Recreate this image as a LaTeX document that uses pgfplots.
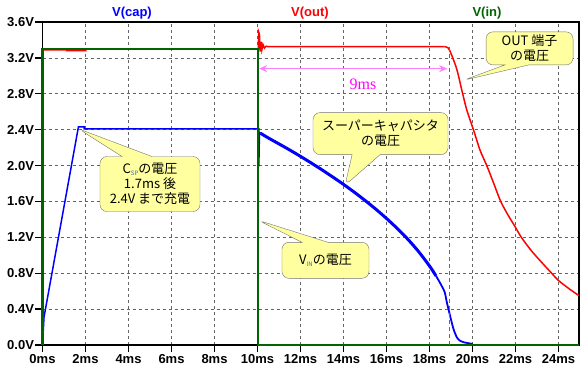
\documentclass[border=0pt]{standalone}
\usepackage{fontspec}
\setmainfont{Liberation Sans}
\newfontfamily\jp{Noto Sans CJK JP}
\newfontfamily\serifnum{Liberation Serif}
\usepackage{pgfplots}
\pgfplotsset{compat=1.18}
\usetikzlibrary{shapes.callouts,arrows.meta}
\definecolor{vblue}{RGB}{0,0,255}
\definecolor{vred}{RGB}{255,0,0}
\definecolor{vgreen}{RGB}{0,100,0}
\definecolor{mag}{RGB}{255,0,255}
\definecolor{lmag}{RGB}{255,128,255}
\definecolor{cfill}{RGB}{255,255,160}
\definecolor{gridc}{RGB}{100,100,100}
\definecolor{subc}{RGB}{40,110,170}
\begin{document}
\begin{tikzpicture}[x=1pt,y=1pt]
\path[use as bounding box] (0,0) rectangle (588,372);
\begin{axis}[
  at={(42.5pt,27pt)}, anchor=south west,
  scale only axis, width=536.5pt, height=323pt,
  xmin=0, xmax=24.95, ymin=0, ymax=3.6,
  clip=false,
  axis line style={black, line width=1.6pt},
  xtick={0,2,4,6,8,10,12,14,16,18,20,22,24},
  xticklabels={0ms,2ms,4ms,6ms,8ms,10ms,12ms,14ms,16ms,18ms,20ms,22ms,24ms},
  ytick={0,0.4,0.8,1.2,1.6,2.0,2.4,2.8,3.2,3.6},
  yticklabels={0.0V,0.4V,0.8V,1.2V,1.6V,2.0V,2.4V,2.8V,3.2V,3.6V},
  tick align=outside, major tick length=7pt,
  tick style={black, line width=1.4pt},
  xtick pos=bottom, ytick pos=left,
  grid=major,
  grid style={gridc, dash pattern=on 3pt off 3pt, line width=0.7pt},
  ticklabel style={font=\bfseries\fontsize{13}{13}\selectfont, text=black},
  yticklabel style={xshift=2pt},
  xticklabel style={yshift=1pt},
]
% V(out)
\addplot[vred, line width=1.5pt] coordinates {
 (0,3.29) (1.13,3.29) (1.13,3.28) (2.02,3.28) (2.02,3.30) (9.99,3.30)
 (10.04,3.30) (10.05,3.49) (10.09,3.46) (10.12,3.27) (10.16,3.38) (10.2,3.29)
 (10.25,3.35) (10.32,3.31) (10.4,3.33) (10.5,3.325) (18.7,3.325)};
\addplot[vred, line width=1.5pt, smooth, tension=0.5] coordinates {
 (18.7,3.325) (18.87,3.31) (19.03,3.23)
 (19.27,3.07) (19.50,2.84) (19.73,2.62) (20.04,2.40) (20.35,2.17) (20.66,2.0)
 (20.97,1.81) (21.31,1.60) (21.67,1.44) (22.0,1.31) (22.24,1.21) (22.67,1.07)
 (23.14,0.94) (23.64,0.81) (23.99,0.72) (24.53,0.62) (24.95,0.55)};
% V(cap)
\addplot[vblue, line width=1.5pt] coordinates {
 (0,0) (0.07,0.31) (1.67,2.43) (1.94,2.43) (1.94,2.41) (10.06,2.41)
 (10.06,1.99) (10.09,2.37) (10.14,2.36)};
\addplot[vblue, line width=3pt, smooth, tension=0.5] coordinates {
 (10.14,2.36) (10.5,2.308) (11,2.241) (11.5,2.173) (12,2.102) (12.5,2.028)
 (13,1.952) (13.5,1.872) (14,1.790) (14.5,1.703) (15,1.611) (15.5,1.514)
 (16,1.410) (16.5,1.298) (17,1.176) (17.5,1.038) (18,0.880) (18.3,0.770)};
\addplot[vblue, line width=1.8pt, smooth, tension=0.4] coordinates {
 (18.3,0.770) (18.5,0.687) (18.7,0.591) (18.8,0.48) (18.95,0.33) (19.11,0.18)
 (19.27,0.085) (19.4,0.05) (19.6,0.03) (19.93,0.015) (20.0,0.01)};
% V(in)
\addplot[vgreen, line width=2pt] coordinates {
 (0,0) (0,3.30) (10.0,3.30) (10.0,0) (24.95,0)};

% annotations
\draw[lmag, line width=1.5pt, {Stealth[length=8pt,width=7pt]}-{Stealth[length=8pt,width=7pt]}]
  (axis cs:10.07,3.08) -- (axis cs:18.82,3.08);
\draw[mag, line width=0.8pt, dash pattern=on 4pt off 3pt] (axis cs:18.9,3.32) -- (axis cs:18.9,0);
\node[text=mag, font=\serifnum\fontsize{16}{16}\selectfont] at (axis cs:14.9,2.91) {9ms};

\node[text=vblue, font=\bfseries\fontsize{13}{13}\selectfont] at (axis cs:4.16,3.70) {V(cap)};
\node[text=vred, font=\bfseries\fontsize{13}{13}\selectfont] at (axis cs:12.44,3.70) {V(out)};
\node[text=vgreen, font=\bfseries\fontsize{13}{13}\selectfont] at (axis cs:20.67,3.70) {V(in)};

\tikzset{jpc/.style={rectangle callout, draw=black!55, fill=cfill, rounded corners=7pt,
  align=center, inner sep=0pt, font=\jp\fontsize{13}{15}\selectfont}}
\node[jpc, minimum width=100pt, minimum height=55pt, callout pointer width=30pt,
  callout absolute pointer={(axis cs:1.67,2.41)}] at (axis cs:5.0,1.794)
  {C{\fontsize{6}{6}\selectfont\raisebox{-1.5pt}{\textcolor{subc}{SP}}}の電圧\\1.7ms 後\\2.4V まで充電};
\node[jpc, minimum width=135pt, minimum height=42pt, callout pointer width=28pt,
  callout absolute pointer={(axis cs:14.07,1.78)}] at (axis cs:15.72,2.356)
  {スーパーキャパシタ\\の電圧};
\node[jpc, minimum width=87pt, minimum height=36pt, callout pointer width=26pt,
  callout absolute pointer={(axis cs:10.03,1.39)}] at (axis cs:13.16,0.944)
  {V{\fontsize{6}{6}\selectfont\raisebox{-1.5pt}{\textcolor{subc}{IN}}}の電圧};
\node[jpc, minimum width=87pt, minimum height=33pt, callout pointer width=24pt,
  callout absolute pointer={(axis cs:19.57,2.95)}] at (axis cs:22.65,3.306)
  {OUT 端子\\の電圧};
\end{axis}
\end{tikzpicture}
\end{document}
